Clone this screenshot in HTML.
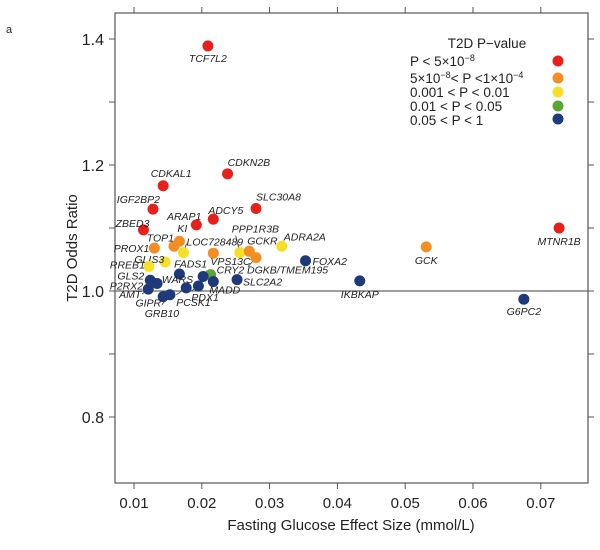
<!DOCTYPE html>
<html><head><meta charset="utf-8"><style>
html,body{margin:0;padding:0;background:#fff;}
svg{display:block;font-family:"Liberation Sans",sans-serif;}
</style></head><body>
<svg id="chart" width="600" height="550" viewBox="0 0 600 550" xmlns="http://www.w3.org/2000/svg">
<text x="6" y="33" font-size="11" fill="#222">a</text>
<rect x="115" y="13" width="473" height="470" fill="none" stroke="#555" stroke-width="1.2"/>
<g id="axes"></g>
<g id="marks"></g>
<g id="legend">
<text x="487" y="48" font-size="13.5" text-anchor="middle" fill="#222">T2D P−value</text>
<text x="410" y="66" font-size="13.5" fill="#222">P &lt; 5×10<tspan dy="-5" font-size="9">−8</tspan></text>
<text x="410" y="83" font-size="13.5" fill="#222">5×10<tspan dy="-5" font-size="9">−8</tspan><tspan dy="5">&lt; P &lt;1×10</tspan><tspan dy="-5" font-size="9">−4</tspan></text>
<text x="410" y="97" font-size="13.5" fill="#222">0.001 &lt; P &lt; 0.01</text>
<text x="410" y="111" font-size="13.5" fill="#222">0.01 &lt; P &lt; 0.05</text>
<text x="410" y="125" font-size="13.5" fill="#222">0.05 &lt; P &lt; 1</text>
<circle cx="558" cy="61" r="5.5" fill="#e8201c"/>
<circle cx="558" cy="78" r="5.5" fill="#f28e22"/>
<circle cx="558" cy="92" r="5.5" fill="#f5e026"/>
<circle cx="558" cy="106" r="5.5" fill="#5ba633"/>
<circle cx="558" cy="119" r="5.5" fill="#1e3a7a"/>
</g>
<text x="351" y="530" font-size="15" text-anchor="middle" fill="#222">Fasting Glucose Effect Size (mmol/L)</text>
<text transform="translate(77,248) rotate(-90)" font-size="15" text-anchor="middle" fill="#222">T2D Odds Ratio</text>
</svg>
<script>
const genes = ["TCF7L2","CDKN2B","CDKAL1","IGF2BP2","SLC30A8","ADCY5","ARAP1","ZBED3","MTNR1B","GCK","G6PC2","TOP1","KI","PROX1","LOC728489","GLIS3","RREB1","PPP1R3B","GCKR","DGKB/TMEM195","VPS13C","ADRA2A","FOXA2","CRY2","FADS1","MADD","SLC2A2","WARS","GLS2","P2RX2","AMT","GIPR","GRB10","PCSK1","PDX1","IKBKAP"];
const effectSize = [0.0209,0.0238,0.0143,0.0128,0.0280,0.0217,0.0192,0.0114,0.0727,0.0531,0.0675,0.0159,0.0167,0.0130,0.0173,0.0146,0.0122,0.0256,0.0270,0.0280,0.0217,0.0318,0.0353,0.0213,0.0202,0.0217,0.0252,0.0167,0.0124,0.0134,0.0121,0.0143,0.0153,0.0177,0.0195,0.0433];
const oddsRatio = [1.389,1.186,1.167,1.130,1.131,1.114,1.105,1.097,1.100,1.070,0.987,1.071,1.079,1.068,1.061,1.046,1.039,1.061,1.063,1.053,1.060,1.071,1.048,1.026,1.023,1.015,1.018,1.027,1.017,1.012,1.003,0.991,0.994,1.005,1.008,1.016];
const pClass = ["r","r","r","r","r","r","r","r","r","o","b","o","o","o","y","y","y","y","o","o","o","y","b","g","b","b","b","b","b","b","b","b","b","b","b","b"];
const xTicks = [0.01,0.02,0.03,0.04,0.05,0.06,0.07];
const yTicks = [0.8,1.0,1.2,1.4];
const yMinorTicks = [0.9,1.1,1.3];
const colors = {r:"#e8201c",o:"#f28e22",y:"#f5e026",g:"#5ba633",b:"#1e3a7a"};
const lab = {"TCF7L2":[0,16,"middle"],"CDKN2B":[0,-8,"start"],"CDKAL1":[8,-9,"middle"],"IGF2BP2":[7,-6,"end"],"SLC30A8":[0,-8,"start"],"ADCY5":[-5,-5,"start"],"ARAP1":[5,-5,"end"],"ZBED3":[6,-3,"end"],"MTNR1B":[0,17,"middle"],"GCK":[0,17,"middle"],"G6PC2":[0,16,"middle"],"TOP1":[0,-5,"end"],"KI":[-2,-9,"start"],"PROX1":[-5,4,"end"],"LOC728489":[3,-7,"start"],"GLIS3":[-1,1,"end"],"RREB1":[-4,2,"end"],"PPP1R3B":[-8,-20,"start"],"GCKR":[-2,-7,"start"],"DGKB/TMEM195":[-9,16,"start"],"VPS13C":[-3,12,"start"],"ADRA2A":[2,-6,"start"],"FOXA2":[7,4,"start"],"CRY2":[6,-1,"start"],"FADS1":[4,-9,"end"],"MADD":[-4,12,"start"],"SLC2A2":[6,6,"start"],"WARS":[-2,9,"middle"],"GLS2":[-6,-1,"end"],"P2RX2":[-14,6,"end"],"AMT":[-7,9,"end"],"GIPR":[-2,10,"end"],"GRB10":[-8,22,"middle"],"PCSK1":[-10,18,"start"],"PDX1":[-7,15,"start"],"IKBKAP":[0,17,"middle"]};
const leaders = {"PPP1R3B":[-4,-17],"GCKR":[-8,-2],"DGKB/TMEM195":[-8,9],"VPS13C":[-3,4],"LOC728489":[3,-9],"FADS1":[4,-6],"PCSK1":[-10,7],"PDX1":[-7,5],"GRB10":[-8,10],"AMT":[-6,5],"RREB1":[-4,0],"PROX1":[-5,0]};
const NS="http://www.w3.org/2000/svg";
function xs(v){return 134+(v-0.01)*6780;}
function ys(v){return 291-(v-1.0)*630;}
const axes=document.getElementById('axes'), marks=document.getElementById('marks');
function mk(tag,attrs,parent){const e=document.createElementNS(NS,tag);for(const k in attrs)e.setAttribute(k,attrs[k]);parent.appendChild(e);return e;}
xTicks.forEach(t=>{
  const x=xs(t);
  const tb=mk('line',{x1:x,x2:x,y1:483,y2:489,stroke:'#555'},axes);
  
  
  const tt=mk('line',{x1:x,x2:x,y1:7,y2:13,stroke:'#555'},axes);
  
  
  const l=mk('text',{x:x,y:508,'font-size':15,'text-anchor':'middle',fill:'#222'},axes);
  l.textContent=t.toFixed(2);
  
  
});
yTicks.concat(yMinorTicks).forEach(t=>{
  const y=ys(t);
  const a=mk('line',{x1:109,x2:115,y1:y,y2:y,stroke:'#555'},axes);
  
  
  const b=mk('line',{x1:588,x2:594,y1:y,y2:y,stroke:'#555'},axes);
  
  
});
yTicks.forEach(t=>{
  const l=mk('text',{x:104,y:ys(t)+6,'font-size':16,'text-anchor':'end',fill:'#222'},axes);
  l.textContent=t.toFixed(1);
  
  
});
const ref=mk('line',{x1:115,x2:588,y1:ys(1.0),y2:ys(1.0),stroke:'#666','stroke-width':1.2},axes);


genes.forEach((g,i)=>{
  const cx=xs(effectSize[i]), cy=ys(oddsRatio[i]);
  if(leaders[g]){
    const ln=mk('line',{x1:cx,y1:cy,x2:cx+leaders[g][0],y2:cy+leaders[g][1],stroke:'#333','stroke-width':0.8},marks);
    
    
  }
});
genes.forEach((g,i)=>{
  const cx=xs(effectSize[i]), cy=ys(oddsRatio[i]);
  const c=mk('circle',{cx:cx,cy:cy,r:5.5,fill:colors[pClass[i]]},marks);
  
  
  const o=lab[g]||[0,14,'middle'];
  const t=mk('text',{x:cx+o[0],y:cy+o[1],'font-size':10.5,'font-style':'italic','text-anchor':o[2],fill:'#222'},marks);
  t.textContent=g;
  
  
});
</script>
</body></html>
